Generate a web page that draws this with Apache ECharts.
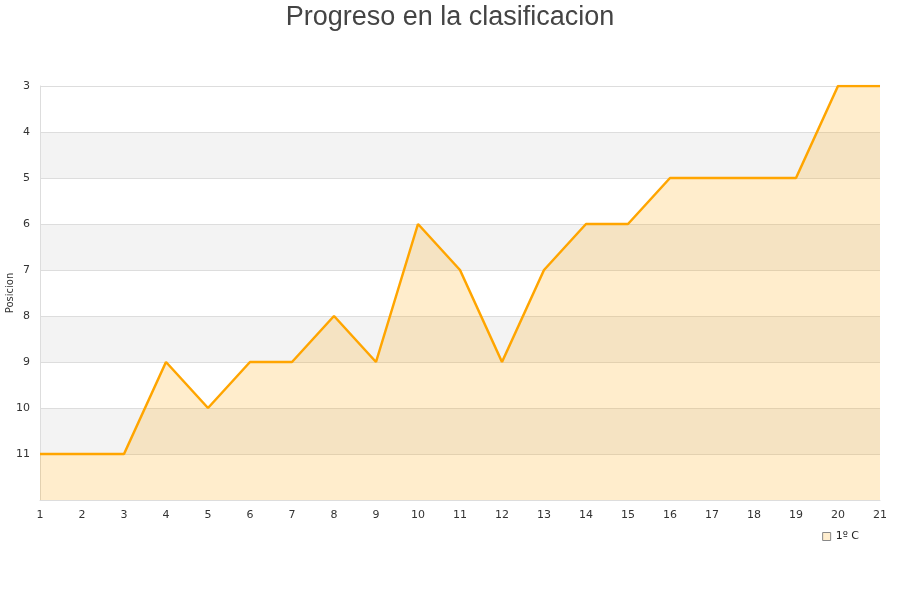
<!DOCTYPE html>
<html><head><meta charset="utf-8">
<script src="https://cdn.jsdelivr.net/npm/echarts@6/dist/echarts.min.js"></script>
<style>html,body{margin:0;padding:0;background:#fff}#c{width:900px;height:600px}</style>
</head><body><div id="c"></div>
<script>
const jornadas = ['1','2','3','4','5','6','7','8','9','10','11','12','13','14','15','16','17','18','19','20','21'];
const posiciones = [11,11,11,9,10,9,9,8,9,6,7,9,7,6,6,5,5,5,5,3,3];
const seriesName = '1º C';
const yAxisName = 'Posicion';
const chart = echarts.init(document.getElementById('c'));
chart.setOption({
  animation: false,
  title: {text: 'Progreso en la clasificacion', left: 'center', top: -1,
    textStyle: {fontFamily: 'Liberation Sans, Arial, sans-serif', fontSize: 27, fontWeight: 'normal', color: '#444'}},
  legend: {data: [{name: seriesName, icon: 'rect', itemStyle: {color: '#ffeecf', borderColor: '#888', borderWidth: 1}}],
    right: 36, top: 526, itemWidth: 8, itemHeight: 8, itemGap: 6,
    textStyle: {fontSize: 11, color: '#222', fontFamily: 'DejaVu Sans'}},
  graphic: [{type: 'text', x: 10, y: 293, rotation: Math.PI / 2,
    style: {text: yAxisName, fontSize: 10, fill: '#333', fontFamily: 'DejaVu Sans', align: 'center', verticalAlign: 'middle'}}],
  grid: {left: 40, right: 20, top: 86, bottom: 100, outerBoundsMode: 'none', containLabel: false},
  xAxis: {type: 'category', data: jornadas, boundaryGap: false,
    axisLine: {show: true, lineStyle: {color: '#ddd'}}, axisTick: {show: false},
    axisLabel: {color: '#333', fontSize: 11, fontFamily: 'DejaVu Sans', margin: 10},
    splitLine: {show: false}},
  yAxis: {type: 'value', inverse: true, min: 3, max: 12, interval: 1,
    axisLine: {show: true, lineStyle: {color: '#ddd'}}, axisTick: {show: false},
    axisLabel: {color: '#333', fontSize: 11, fontFamily: 'DejaVu Sans', margin: 10,
      formatter: v => v === 12 ? '' : String(v)},
    splitLine: {show: true, lineStyle: {color: '#ddd'}},
    splitArea: {show: true, areaStyle: {color: ['#ffffff', '#f3f3f3']}}},
  series: [{name: seriesName, type: 'line', data: posiciones, symbol: 'none',
    lineStyle: {color: '#ffa500', width: 2.5}, itemStyle: {color: '#ffeecf'},
    areaStyle: {origin: 'end', color: 'rgba(255,165,0,0.2)', opacity: 1}}]
});
</script></body></html>
